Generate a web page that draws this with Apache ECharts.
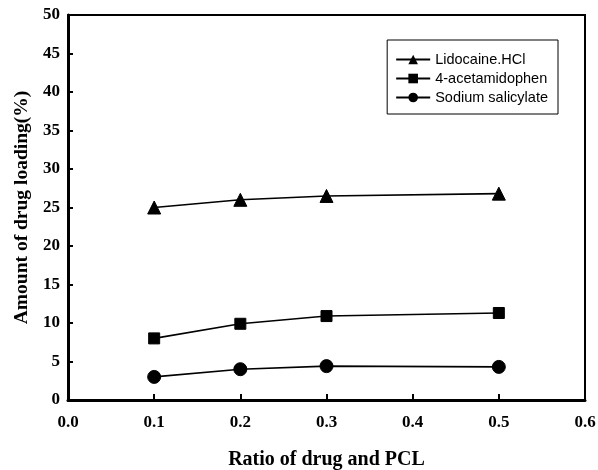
<!DOCTYPE html>
<html>
<head>
<meta charset="utf-8">
<script src="https://cdn.jsdelivr.net/npm/echarts@6/dist/echarts.min.js"></script>
<style>
  html, body { margin: 0; padding: 0; background: #fff; }
  #chart { width: 598px; height: 470px; }
</style>
</head>
<body>
<div id="chart"></div>
<script>
// Drug/PCL ratio on the x axis
const ratios = [0.1, 0.2, 0.3, 0.5];

// Drug loading (%) per drug
const lidocaine = [25.0, 26.0, 26.5, 26.8];
const acetamidophen = [8.0, 9.9, 10.9, 11.3];
const salicylate = [3.0, 4.0, 4.4, 4.3];

const seriesNames = ['Lidocaine.HCl', '4-acetamidophen', 'Sodium salicylate'];
const seriesValues = [lidocaine, acetamidophen, salicylate];
const seriesSymbols = ['triangle', 'rect', 'circle'];
const symbolSizes = [13, 11, 13];

const serifBold = { fontFamily: 'Liberation Serif', fontWeight: 'bold', color: '#000' };

const chart = echarts.init(document.getElementById('chart'), null, { renderer: 'canvas' });

chart.setOption({
  animation: false,
  backgroundColor: '#fff',
  grid: {
    left: 68, right: 13, top: 15, bottom: 70,
    containLabel: false,
    outerBoundsMode: 'none',
    show: true, borderColor: '#000', borderWidth: 2, backgroundColor: 'transparent'
  },
  legend: {
    right: 40, top: 40,
    orient: 'vertical',
    borderColor: '#000', borderWidth: 1,
    padding: [12, 10, 9, 8],
    itemGap: 4,
    itemWidth: 34, itemHeight: 12,
    textStyle: { fontFamily: 'Liberation Sans', fontSize: 14.5, color: '#000' },
    data: seriesNames
  },
  xAxis: {
    type: 'value', min: 0, max: 0.6, interval: 0.1,
    name: 'Ratio of drug and PCL',
    nameLocation: 'middle', nameGap: 50,
    nameTextStyle: Object.assign({ fontSize: 20 }, serifBold),
    axisLine: { show: true, lineStyle: { color: '#000', width: 3 } },
    axisTick: { show: true, inside: true, length: 6, lineStyle: { color: '#000', width: 2 } },
    axisLabel: Object.assign({ fontSize: 17, margin: 14, formatter: v => v.toFixed(1) }, serifBold),
    splitLine: { show: false }
  },
  yAxis: {
    type: 'value', min: 0, max: 50, interval: 5,
    name: 'Amount of drug loading(%)',
    nameLocation: 'middle', nameGap: 36,
    nameTextStyle: Object.assign({ fontSize: 19.5 }, serifBold),
    axisLine: { show: true, lineStyle: { color: '#000', width: 3 } },
    axisTick: { show: true, inside: true, length: 5, lineStyle: { color: '#000', width: 2 } },
    axisLabel: Object.assign({ fontSize: 17, margin: 8 }, serifBold),
    splitLine: { show: false }
  },
  series: seriesNames.map((name, i) => ({
    name: name,
    type: 'line',
    data: ratios.map((r, j) => [r, seriesValues[i][j]]),
    symbol: seriesSymbols[i],
    symbolSize: symbolSizes[i],
    showAllSymbol: true,
    lineStyle: { color: '#000', width: 1.6 },
    itemStyle: { color: '#000', borderColor: '#000' }
  }))
});
</script>
</body>
</html>
